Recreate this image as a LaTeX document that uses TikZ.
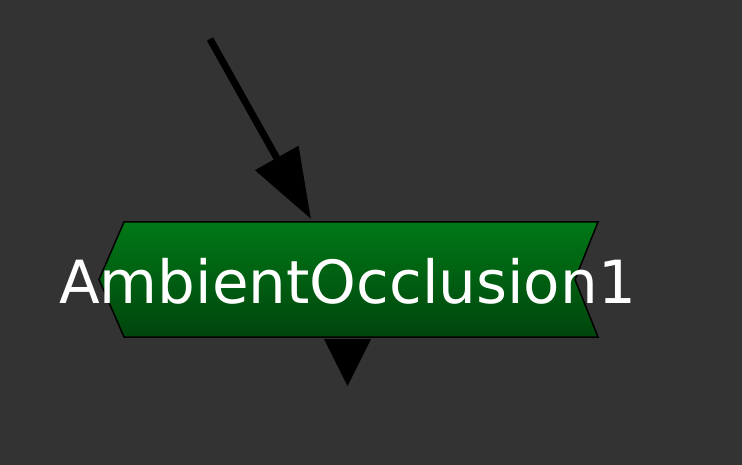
\documentclass[tikz,border=0pt]{standalone}
\usepackage{fontspec}
\newfontfamily\labelfont{DejaVu Sans}
\usetikzlibrary{arrows.meta}
\definecolor{bg}{HTML}{333333}
\definecolor{gtop}{HTML}{007816}
\definecolor{gbot}{HTML}{00450D}
\tikzset{
  nodebox/.style={draw=black, line width=1.5pt, top color=gtop, bottom color=gbot, shading angle=0},
  label/.style={text=white, font=\labelfont\fontsize{59.5}{70}\selectfont, inner sep=0pt},
  link/.style={draw=black, line width=7pt, -{Triangle[length=70pt,width=48pt]}},
  port/.style={fill=black, draw=none}
}
\begin{document}
\begin{tikzpicture}[x=1pt,y=-1pt]
\fill[bg] (0,0) rectangle (742,465);
\useasboundingbox (0,0) rectangle (742,465);
% node body
\draw[nodebox] (124,222) -- (598,222) -- (575,279.5) -- (598,337) -- (124,337) -- (99,279.5) -- cycle;
\node[label, anchor=base] (title) at (347.5,304) {AmbientOcclusion1};
% input connector
\coordinate (src) at (210,39);
\coordinate (in) at (311,219);
\draw[link] (src) -- (in);
% output port
\coordinate (outL) at (324,339);
\coordinate (outR) at (371,339);
\coordinate (outB) at (347.5,386);
\fill[port] (outL) -- (outR) -- (outB) -- cycle;
\end{tikzpicture}
\end{document}
